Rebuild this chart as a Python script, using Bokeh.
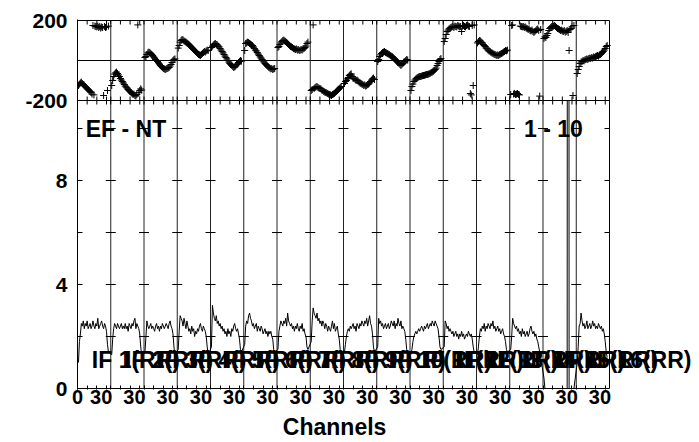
import math
from bokeh.plotting import figure
from bokeh.models import (Range1d, FixedTicker, LinearAxis, ColumnDataSource,
                          LabelSet, Label)
from bokeh.core.properties import value
from bokeh.embed import file_html
from bokeh.resources import INLINE

# ---------------- data ----------------
N_IF = 16
CHANNELS = list(range(1, 33))
IF_SPAN = 34.4                 # channel units occupied by one IF panel
TICK_CH = [0, 10, 20, 30]      # channel ticks in each IF panel
XLABEL_FIRST = "0"
XLABEL_EACH = "30"
LABEL_CH = 30
IF_NAMES = [f"IF {k}(RR)" for k in range(1, N_IF + 1)]
BASELINE_TEXT = "EF - NT"
RANGE_TEXT = "1 - 10"
X_TITLE = "Channels"
PHASE_LIM = [-200, 200]
AMP_TICKS = [0, 4, 8]
AMP_MINOR = [2, 6, 10]

AMP_IF01 = [1.0, 1.8, 2.1, 2.5, 2.4, 2.6, 2.3, 2.5, 2.4, 2.6, 2.3, 2.4, 2.5, 2.3, 2.4, 2.6, 2.4, 2.3, 2.5, 2.4, 2.7, 2.3, 2.4, 2.5, 2.6, 2.4, 2.3, 2.5, 2.4, 2.2, 1.7, 1.4]
AMP_IF02 = [1.3, 1.9, 2.3, 2.5, 2.4, 2.3, 2.5, 2.4, 2.3, 2.4, 2.5, 2.3, 2.4, 2.3, 2.5, 2.3, 2.4, 2.2, 2.5, 2.4, 2.3, 2.5, 2.4, 2.6, 2.7, 2.3, 2.5, 2.4, 2.3, 2.1, 1.6, 1.3]
AMP_IF03 = [1.4, 2.0, 2.6, 2.4, 2.3, 2.4, 2.5, 2.3, 2.4, 2.3, 2.2, 2.4, 2.5, 2.3, 2.4, 2.2, 2.4, 2.3, 2.5, 2.4, 2.3, 2.4, 2.5, 2.4, 2.3, 2.5, 2.6, 2.4, 2.3, 2.1, 1.6, 1.3]
AMP_IF04 = [1.5, 2.2, 2.8, 2.7, 2.6, 2.4, 2.7, 2.5, 2.3, 2.6, 2.4, 2.2, 2.3, 2.1, 2.4, 2.2, 2.3, 2.0, 2.2, 2.1, 2.3, 2.2, 2.4, 2.5, 2.3, 2.2, 2.4, 2.3, 2.2, 2.0, 1.6, 1.3]
AMP_IF05 = [1.6, 3.2, 2.9, 2.7, 2.6, 2.8, 2.5, 2.6, 2.4, 2.5, 2.3, 2.4, 2.2, 2.3, 2.1, 2.2, 2.0, 2.3, 2.1, 2.2, 2.0, 2.3, 2.2, 2.4, 2.5, 2.3, 2.2, 2.3, 2.1, 1.9, 1.5, 1.4]
AMP_IF06 = [1.7, 2.4, 2.6, 2.5, 2.8, 2.9, 2.7, 2.6, 2.4, 2.5, 2.3, 2.4, 2.5, 2.2, 2.4, 2.3, 2.2, 2.4, 2.3, 2.1, 2.2, 2.3, 2.1, 2.2, 2.0, 2.2, 2.1, 2.2, 2.0, 1.9, 1.5, 1.4]
AMP_IF07 = [1.5, 2.2, 2.4, 2.6, 2.5, 2.4, 2.6, 2.5, 2.7, 2.4, 2.9, 2.6, 2.5, 2.4, 2.5, 2.3, 2.4, 2.2, 2.4, 2.3, 2.5, 2.3, 2.2, 2.4, 2.3, 2.5, 2.2, 2.3, 2.1, 2.0, 1.6, 1.5]
AMP_IF08 = [1.8, 2.6, 3.1, 2.9, 2.8, 2.7, 2.9, 2.6, 2.7, 2.5, 2.6, 2.4, 2.6, 2.5, 2.3, 2.5, 2.4, 2.2, 2.4, 2.3, 2.2, 2.4, 2.6, 2.3, 2.5, 2.2, 2.3, 2.4, 2.1, 1.9, 1.5, 1.4]
AMP_IF09 = [1.4, 1.7, 2.0, 2.2, 2.3, 2.2, 2.4, 2.3, 2.4, 2.5, 2.3, 2.4, 2.2, 2.5, 2.4, 2.3, 2.5, 2.4, 2.6, 2.5, 2.4, 2.6, 2.5, 2.7, 2.4, 2.6, 2.8, 2.5, 2.4, 2.1, 1.6, 1.4]
AMP_IF10 = [1.6, 2.7, 2.5, 2.6, 2.4, 2.5, 2.3, 2.4, 2.5, 2.3, 2.4, 2.5, 2.3, 2.4, 2.6, 2.5, 2.4, 2.6, 2.3, 2.5, 2.4, 2.7, 2.5, 2.4, 2.6, 2.3, 2.4, 2.3, 2.2, 1.9, 1.5, 1.3]
AMP_IF11 = [1.3, 1.5, 1.8, 2.0, 2.1, 2.2, 2.1, 2.2, 2.3, 2.2, 2.3, 2.4, 2.3, 2.2, 2.4, 2.3, 2.4, 2.5, 2.3, 2.4, 2.5, 2.4, 2.6, 2.5, 2.4, 2.6, 2.5, 2.4, 2.3, 2.0, 1.6, 1.5]
AMP_IF12 = [1.6, 2.6, 2.5, 2.3, 2.4, 2.2, 2.3, 2.2, 2.1, 2.2, 2.0, 2.1, 2.2, 2.0, 2.1, 1.9, 2.1, 2.0, 2.2, 2.0, 2.1, 1.9, 2.0, 2.1, 2.0, 2.2, 2.1, 2.0, 2.1, 1.9, 1.6, 1.4]
AMP_IF13 = [1.3, 1.6, 2.0, 2.3, 2.2, 2.4, 2.3, 2.5, 2.2, 2.4, 2.3, 2.5, 2.4, 2.3, 2.5, 2.4, 2.6, 2.3, 2.4, 2.2, 2.3, 2.4, 2.2, 2.3, 2.1, 2.2, 2.3, 2.1, 2.0, 1.8, 1.5, 1.4]
AMP_IF14 = [1.5, 2.0, 2.7, 2.5, 2.4, 2.3, 2.4, 2.2, 2.3, 2.1, 2.2, 2.0, 2.3, 2.1, 2.2, 2.0, 2.1, 2.2, 2.0, 2.1, 2.3, 2.4, 2.2, 2.1, 2.2, 2.0, 2.1, 1.9, 1.8, 1.6, 1.4, 1.2]
AMP_IF15 = [0.4, 0.0, 0.0, 0.0, 0.0, 0.0, 0.0, 0.0, 0.0, 0.0, 0.0, 0.0, 0.0, 0.0, 0.0, 0.0, 0.0, 0.0, 0.0, 0.0, 0.0, 0.0, 0.0, 0.0, 0.0, 100.0, 0.0, 0.0, 0.0, 0.0, 0.0, 0.0]
AMP_IF16 = [1.0, 1.6, 2.4, 2.5, 2.9, 2.6, 2.4, 2.5, 2.3, 2.4, 2.6, 2.3, 2.4, 2.5, 2.3, 2.4, 2.6, 2.4, 2.5, 2.3, 2.4, 2.3, 2.5, 2.4, 2.3, 2.4, 2.2, 2.3, 2.1, 1.8, 1.4, 1.2]

PHS_IF01 = [-125, -118, -112, -108, -115, -120, -126, -130, -135, -140, -145, -150, -155, -160, -168, 175, -172, 172, 170, 168, 172, 165, 170, 162, 168, 165, -175, 170, 165, 168, -150, 172]
PHS_IF02 = [-125, -100, -80, -68, -62, -58, -65, -72, -80, -90, -98, -105, -112, -120, -128, -133, -138, -145, -150, -155, -160, -165, -170, -168, -175, -178, -170, 178, -160, -150, -142, -148]
PHS_IF03 = [15, 20, 30, 38, 42, 40, 35, 30, 25, 18, 12, 5, 0, -5, -12, -18, -25, -30, -35, -40, -42, -45, -42, -40, -38, -35, -28, -20, -10, 0, 5, 8]
PHS_IF04 = [62, 75, 92, 100, 105, 103, 98, 95, 92, 88, 85, 80, 75, 70, 65, 60, 55, 50, 45, 40, 35, 30, 28, 25, 30, 35, 40, 45, 42, 48, 52, 50]
PHS_IF05 = [65, 72, 78, 82, 85, 80, 78, 72, 68, 60, 52, 45, 38, 30, 22, 15, 8, 0, -8, -15, -20, -25, -30, -35, -32, -28, -22, -18, -10, -5, 0, -3]
PHS_IF06 = [50, 85, 88, 92, 90, 85, 82, 78, 75, 68, 60, 52, 48, 40, 32, 25, 18, 12, 5, -2, -8, -15, -20, -25, -30, -35, -38, -42, -40, -45, -42, -40]
PHS_IF07 = [65, 70, 80, 88, 95, 100, 102, 98, 95, 90, 85, 80, 75, 70, 68, 65, 60, 58, 55, 58, 52, 55, 50, 52, 55, 52, 58, 60, 65, 72, 85, 92]
PHS_IF08 = [-150, -145, 178, -140, -135, -132, -130, -135, -138, -140, -142, -148, -150, -155, -158, -160, -162, -165, -168, -170, -172, -175, -170, -168, -165, -160, -155, -150, -145, -140, -135, -130]
PHS_IF09 = [-115, -105, -100, -92, -85, -75, -70, -67, -80, -90, -88, -95, -100, -98, -102, -108, -112, -115, -118, -120, -125, -122, -128, -125, -120, -118, -112, -105, -98, -92, -88, -95]
PHS_IF10 = [-5, 5, 20, 28, 35, 40, 42, 45, 40, 38, 35, 32, 30, 25, 22, 20, 15, 10, 5, 0, -5, -10, -15, -20, -25, -20, -15, -8, -5, 0, 5, 2]
PHS_IF11 = [-150, -130, -118, -105, -98, -92, -88, -85, -82, -80, -80, -78, -76, -75, -74, -72, -70, -70, -68, -66, -64, -60, -58, -55, -50, -45, -38, -25, -15, -5, 5, 10]
PHS_IF12 = [95, 110, 130, 145, 152, 158, 162, 165, 168, 170, 165, 172, 170, 168, 175, 172, 168, 170, 145, 172, 175, 170, 168, 175, 178, 172, 170, -165, -172, 175, -125, 178]
PHS_IF13 = [88, 95, 100, 98, 92, 88, 80, 75, 70, 62, 58, 52, 48, 45, 40, 38, 35, 32, 30, 28, 25, 28, 25, 30, 32, 35, 38, 42, 45, 50, 48, 52]
PHS_IF14 = [-170, 175, 178, -168, -165, -170, -168, -165, -170, -172, 172, 170, 168, 170, 165, 168, 162, 160, 155, 158, 150, 148, 152, 145, 140, 145, 150, 155, 158, 150, -178, 155]
PHS_IF15 = [110, 118, 115, 125, 135, 150, 160, 165, 170, 168, 172, 175, 170, 165, 160, 158, 155, 150, 152, 148, 145, 150, 142, 145, 150, 140, 50, 155, 160, 168, -175, 175]
PHS_IF16 = [-65, -45, -30, -15, -8, -5, 0, -2, 3, 5, 8, 5, 10, 12, 10, 15, 12, 18, 15, 20, 22, 25, 22, 28, 30, 35, 40, 45, 52, 60, 70, 75]

AMPS = [AMP_IF01, AMP_IF02, AMP_IF03, AMP_IF04, AMP_IF05, AMP_IF06, AMP_IF07, AMP_IF08,
        AMP_IF09, AMP_IF10, AMP_IF11, AMP_IF12, AMP_IF13, AMP_IF14, AMP_IF15, AMP_IF16]
PHASES = [PHS_IF01, PHS_IF02, PHS_IF03, PHS_IF04, PHS_IF05, PHS_IF06, PHS_IF07, PHS_IF08,
          PHS_IF09, PHS_IF10, PHS_IF11, PHS_IF12, PHS_IF13, PHS_IF14, PHS_IF15, PHS_IF16]

# ------------- assembled coordinates -------------
xs, amp, phs = [], [], []
for k in range(N_IF):
    for c, a, p_ in zip(CHANNELS, AMPS[k], PHASES[k]):
        xs.append(k * IF_SPAN + c)
        amp.append(a)
        phs.append(p_)
src = ColumnDataSource(dict(x=xs, amp=amp, phs=phs))

x_ticks = [round(k * IF_SPAN + t, 2) for k in range(N_IF) for t in TICK_CH]
bounds = [k * IF_SPAN for k in range(1, N_IF)]
XMAX = N_IF * IF_SPAN

# ---------------- geometry (one frame, two stacked panels) ----------------
FONT = "Liberation Sans"
LEFT, TOP = 77, 19
BOX_W = 532                      # pixel width of the boxed plot
FRAME_W = 620                    # frame reaches further right for the IF labels
PX_AMP = 26.0                    # pixels per amplitude unit
AMP_PANEL_PX = 288               # lower panel height
PHS_PANEL_PX = 80                # upper panel height
FRAME_H = 1 + PHS_PANEL_PX + AMP_PANEL_PX + 1
AMP_LO = -1 / PX_AMP
AMP_HI = AMP_LO + FRAME_H / PX_AMP
AMP_SEP = AMP_PANEL_PX / PX_AMP                       # amplitude where the panels meet
PHS_PER_AMP = (PHASE_LIM[1] - PHASE_LIM[0]) / (PHS_PANEL_PX / PX_AMP)


def amp_of_phase(v):
    return AMP_SEP + (v - PHASE_LIM[0]) / PHS_PER_AMP


def phase_of_amp(a):
    return PHASE_LIM[0] + (a - AMP_SEP) * PHS_PER_AMP


def clip_top(x, y, top):
    """Cut the polyline where it leaves the amplitude panel (NaN breaks the line)."""
    ox, oy = [], []
    for i in range(len(x)):
        if i > 0:
            px, py = x[i - 1], y[i - 1]
            if (py <= top) != (y[i] <= top):
                xc = px + (top - py) * (x[i] - px) / (y[i] - py)
                ox.append(xc)
                oy.append(top)
                if py <= top:
                    ox.append(float("nan"))
                    oy.append(float("nan"))
        if y[i] <= top:
            ox.append(x[i])
            oy.append(y[i])
    return ox, oy


AMP_BOXTOP = amp_of_phase(PHASE_LIM[1])
line_x, line_y = clip_top(xs, amp, AMP_SEP)

p = figure(frame_width=FRAME_W, frame_height=FRAME_H,
           x_range=Range1d(0, XMAX * FRAME_W / BOX_W), y_range=Range1d(AMP_LO, AMP_HI),
           x_axis_location=None, y_axis_location=None,
           output_backend="svg", toolbar_location=None,
           min_border_left=LEFT, min_border_right=699 - LEFT - FRAME_W,
           min_border_top=TOP, min_border_bottom=0)
p.extra_y_ranges = {"phase": Range1d(phase_of_amp(AMP_LO), phase_of_amp(AMP_HI))}
p.grid.visible = False
p.outline_line_color = None

# left axis: amplitude labels plus the phase limits of the upper panel
t_lo, t_hi = round(amp_of_phase(PHASE_LIM[0]), 4), round(amp_of_phase(PHASE_LIM[1]), 4)
overrides = {t: str(t) for t in AMP_TICKS}
overrides[t_lo] = str(PHASE_LIM[0])
overrides[t_hi] = str(PHASE_LIM[1])
ax_y = LinearAxis(ticker=FixedTicker(ticks=AMP_TICKS + [t_lo, t_hi], minor_ticks=AMP_MINOR),
                  major_tick_in=5, major_tick_out=0, minor_tick_in=5, minor_tick_out=0,
                  major_label_overrides=overrides,
                  major_label_text_font=FONT, major_label_text_font_style="bold",
                  major_label_text_font_size="21px", major_label_text_color="black",
                  major_label_standoff=10, axis_line_color="black",
                  major_tick_line_color="black", minor_tick_line_color="black")
p.add_layout(ax_y, "left")

# x axis: ticks at channels 0/10/20/30 of every IF, labels right-aligned to channel 30
lab_pos = [0.0] + [round(k * IF_SPAN + LABEL_CH - 5.5, 2) for k in range(N_IF)]
lab_txt = [XLABEL_FIRST] + [XLABEL_EACH] * N_IF
ax_x = LinearAxis(ticker=FixedTicker(ticks=lab_pos, minor_ticks=x_ticks),
                  major_tick_in=0, major_tick_out=0, minor_tick_in=4, minor_tick_out=0,
                  major_label_overrides=dict(zip(lab_pos, lab_txt)),
                  major_label_text_font=FONT, major_label_text_font_style="bold",
                  major_label_text_font_size="20px", major_label_text_color="black",
                  major_label_standoff=0, axis_line_color=None,
                  minor_tick_line_color="black")
p.add_layout(ax_x, "below")
title_pos = [266.0]
ax_t = LinearAxis(ticker=FixedTicker(ticks=title_pos, minor_ticks=[]),
                  major_tick_in=0, major_tick_out=0,
                  major_label_overrides={title_pos[0]: X_TITLE},
                  major_label_text_font=FONT, major_label_text_font_style="bold",
                  major_label_text_font_size="23px", major_label_text_color="black",
                  major_label_standoff=7, axis_line_color=None)
p.add_layout(ax_t, "below")

# box edges, panel separator, zero-phase line, IF boundaries
edge = dict(line_color="black", line_width=1)
p.segment(x0=[0, 0, 0], y0=[0, AMP_SEP, AMP_BOXTOP], x1=[XMAX] * 3,
          y1=[0, AMP_SEP, AMP_BOXTOP], **edge)
p.segment(x0=[XMAX], y0=[0], x1=[XMAX], y1=[AMP_BOXTOP], **edge)
p.segment(x0=[0], y0=[0], x1=[XMAX], y1=[0], y_range_name="phase", **edge)
p.segment(x0=bounds, y0=[0] * len(bounds), x1=bounds, y1=[AMP_BOXTOP] * len(bounds),
          line_color="#222222", line_width=1)

# inward ticks along the top edge and both sides of the separator
n = len(x_ticks)
p.ray(x_ticks, [AMP_BOXTOP] * n, length=4, length_units="screen", angle=-math.pi / 2, **edge)
p.ray(x_ticks, [AMP_SEP] * n, length=4, length_units="screen", angle=math.pi / 2, **edge)
p.ray(x_ticks, [AMP_SEP] * n, length=4, length_units="screen", angle=-math.pi / 2, **edge)
ytk = AMP_MINOR + AMP_TICKS[1:]
p.ray([XMAX] * len(ytk), ytk, length=5, length_units="screen", angle=math.pi, **edge)
p.scatter([b for b in bounds for _ in ytk], [t for _ in bounds for t in ytk],
          marker="dash", size=10, line_color="black", line_width=1)

# data
p.scatter("x", "phs", source=src, y_range_name="phase", marker="cross", size=7,
          line_color="black", line_width=1)
p.line(line_x, line_y, line_color="black", line_width=1)

# IF labels
if_src = ColumnDataSource(dict(x=[k * IF_SPAN + 14.8 for k in range(N_IF)],
                               y=[0.78] * N_IF, t=IF_NAMES))
p.add_layout(LabelSet(x="x", y="y", text="t", source=if_src, text_align="left",
                      text_baseline="alphabetic", text_font=value(FONT),
                      text_font_style="bold", text_font_size="23px", text_color="black"))

p.add_layout(Label(x=8.5, y=10.0, text=BASELINE_TEXT, text_font=FONT,
                   text_font_style="bold", text_font_size="23px", text_color="black",
                   text_baseline="alphabetic"))
p.add_layout(Label(x=462, y=10.0, text=RANGE_TEXT, text_font=FONT,
                   text_font_style="bold", text_font_size="23px", text_color="black",
                   text_baseline="alphabetic"))

open("out.html", "w").write(file_html(p, INLINE))
